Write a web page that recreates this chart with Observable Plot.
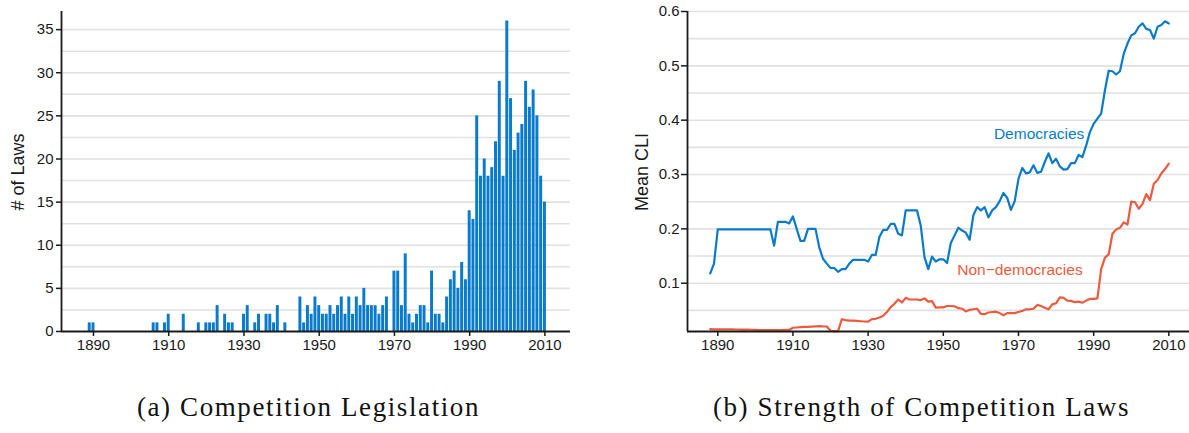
<!DOCTYPE html>
<html>
<head>
<meta charset="utf-8">
<script src="https://cdn.jsdelivr.net/npm/d3@7"></script>
<script src="https://cdn.jsdelivr.net/npm/@observablehq/plot@0.6"></script>
<style>
  body { margin: 0; background: #fff; }
  #wrap { position: relative; width: 1189px; height: 433px; overflow: hidden; }
  #vis1, #vis2 { position: absolute; top: 0; }
  #vis1 { left: 0; }
  #vis2 { left: 595px; }
  .ytitle {
    position: absolute; width: 160px; margin-left: -80px; text-align: center;
    font-family: "Liberation Sans", Arial, sans-serif; font-size: 18px; line-height: 22px;
    color: #1a1a1a; transform: rotate(-90deg); transform-origin: 50% 50%;
  }
  .cap {
    position: absolute; top: 394px; width: 595px; text-align: center;
    font-family: "Liberation Serif", "DejaVu Serif", serif;
    font-size: 27px; line-height: 27px; letter-spacing: 1.6px; color: #111;
  }
</style>
</head>
<body>
<div id="wrap">
  <div id="vis1"></div>
  <div id="vis2"></div>
  <div class="ytitle" style="left: 18px; top: 161px">&#35; of Laws</div>
  <div class="ytitle" style="left: 642px; top: 161px">Mean CLI</div>
  <div class="cap" style="left: 11px">(a) Competition Legislation</div>
  <div class="cap" style="left: 624px">(b) Strength of Competition Laws</div>
</div>
<script>
// number of competition laws passed per year (panel a)
const lawYears = [
  1889, 1890, 1906, 1907, 1909, 1910, 1914, 1918, 1920, 1921, 1922, 1923, 1925, 1926, 1927,
  1930, 1931, 1933, 1934, 1936, 1937, 1938, 1939, 1941, 1945, 1946, 1947, 1948, 1949,
  1950, 1951, 1952, 1953, 1954, 1955, 1956, 1957, 1958, 1959, 1960, 1961, 1962, 1963, 1964,
  1965, 1966, 1967, 1968, 1970, 1971, 1972, 1973, 1974, 1975, 1976, 1977, 1978, 1979,
  1980, 1981, 1982, 1983, 1984, 1985, 1986, 1987, 1988, 1989, 1990, 1991, 1992, 1993, 1994,
  1995, 1996, 1997, 1998, 1999, 2000, 2001, 2002, 2003, 2004, 2005, 2006, 2007, 2008, 2009, 2010
]
const lawCounts = [
  1, 1, 1, 1, 1, 2, 2, 1, 1, 1, 1, 3, 2, 1, 1,
  2, 3, 1, 2, 2, 2, 1, 3, 1, 4, 1, 3, 2, 4,
  3, 2, 2, 3, 2, 3, 4, 2, 4, 2, 4, 3, 5, 3, 3,
  3, 2, 3, 4, 7, 7, 3, 9, 2, 1, 2, 3, 3, 1,
  7, 2, 2, 1, 4, 6, 7, 5, 8, 6, 14, 13, 25, 18, 20,
  18, 19, 22, 29, 18, 36, 27, 21, 23, 24, 29, 26, 28, 25, 18, 15
]

// mean CLI by regime type (panel b), 1888-2010
const cliYears = [
  1888, 1889,
  1890, 1891, 1892, 1893, 1894, 1895, 1896, 1897, 1898, 1899,
  1900, 1901, 1902, 1903, 1904, 1905, 1906, 1907, 1908, 1909,
  1910, 1911, 1912, 1913, 1914, 1915, 1916, 1917, 1918, 1919,
  1920, 1921, 1922, 1923, 1924, 1925, 1926, 1927, 1928, 1929,
  1930, 1931, 1932, 1933, 1934, 1935, 1936, 1937, 1938, 1939,
  1940, 1941, 1942, 1943, 1944, 1945, 1946, 1947, 1948, 1949,
  1950, 1951, 1952, 1953, 1954, 1955, 1956, 1957, 1958, 1959,
  1960, 1961, 1962, 1963, 1964, 1965, 1966, 1967, 1968, 1969,
  1970, 1971, 1972, 1973, 1974, 1975, 1976, 1977, 1978, 1979,
  1980, 1981, 1982, 1983, 1984, 1985, 1986, 1987, 1988, 1989,
  1990, 1991, 1992, 1993, 1994, 1995, 1996, 1997, 1998, 1999,
  2000, 2001, 2002, 2003, 2004, 2005, 2006, 2007, 2008, 2009,
  2010
]
const cliDemocracies = [
  0.118, 0.136,
  0.199, 0.199, 0.199, 0.199, 0.199, 0.199, 0.199, 0.199, 0.199, 0.199,
  0.199, 0.199, 0.199, 0.199, 0.199, 0.169, 0.213, 0.213, 0.213, 0.210,
  0.223, 0.200, 0.178, 0.178, 0.200, 0.200, 0.200, 0.166, 0.145, 0.136,
  0.128, 0.128, 0.121, 0.126, 0.126, 0.136, 0.143, 0.143, 0.143, 0.143,
  0.140, 0.152, 0.152, 0.185, 0.198, 0.198, 0.209, 0.209, 0.191, 0.188,
  0.234, 0.234, 0.234, 0.234, 0.206, 0.148, 0.126, 0.149, 0.140, 0.144,
  0.144, 0.137, 0.174, 0.188, 0.202, 0.197, 0.193, 0.180, 0.225, 0.240,
  0.234, 0.240, 0.221, 0.234, 0.240, 0.251, 0.266, 0.257, 0.235, 0.251,
  0.292, 0.312, 0.302, 0.304, 0.317, 0.303, 0.305, 0.323, 0.339, 0.321,
  0.329, 0.315, 0.309, 0.310, 0.321, 0.321, 0.336, 0.332, 0.353, 0.378,
  0.393, 0.403, 0.412, 0.455, 0.491, 0.490, 0.484, 0.490, 0.522, 0.541,
  0.556, 0.560, 0.572, 0.578, 0.568, 0.566, 0.550, 0.572, 0.575, 0.582,
  0.578
]
const cliNonDemocracies = [
  0.0153, 0.0150,
  0.0150, 0.0150, 0.0150, 0.0150, 0.0150, 0.0148, 0.0147, 0.0147, 0.0145, 0.0143,
  0.0140, 0.0138, 0.0136, 0.0135, 0.0135, 0.0135, 0.0135, 0.0135, 0.0140, 0.0140,
  0.0180, 0.0185, 0.0190, 0.0195, 0.0195, 0.0200, 0.0205, 0.0210, 0.0205, 0.0203,
  0.0125, 0.0117, 0.0117, 0.0337, 0.0320, 0.0310, 0.0310, 0.0305, 0.0300, 0.0295,
  0.0294, 0.0340, 0.0345, 0.0370, 0.0400, 0.0470, 0.0560, 0.0620, 0.0700, 0.0645,
  0.0730, 0.0700, 0.0700, 0.0700, 0.0690, 0.0720, 0.0660, 0.0670, 0.0550, 0.0555,
  0.0555, 0.0580, 0.0580, 0.0575, 0.0540, 0.0530, 0.0480, 0.0510, 0.0520, 0.0530,
  0.0435, 0.0430, 0.0460, 0.0470, 0.0475, 0.0450, 0.0410, 0.0450, 0.0450, 0.0450,
  0.0470, 0.0490, 0.0520, 0.0520, 0.0530, 0.0600, 0.0580, 0.0550, 0.0520, 0.0610,
  0.0630, 0.0740, 0.0730, 0.0680, 0.0675, 0.0650, 0.0660, 0.0640, 0.0680, 0.0710,
  0.0710, 0.0720, 0.1260, 0.1470, 0.1530, 0.1910, 0.1990, 0.2020, 0.2120, 0.2080,
  0.2500, 0.2490, 0.2370, 0.2460, 0.2640, 0.2530, 0.2830, 0.2900, 0.3020, 0.3100,
  0.3200
]

// axis ticks
const yearTicks = [1890, 1910, 1930, 1950, 1970, 1990, 2010]
const lawTicks = [0, 5, 10, 15, 20, 25, 30, 35]
const lawGrid = [2.5, 5, 7.5, 10, 12.5, 15, 17.5, 20, 22.5, 25, 27.5, 30, 32.5, 35]
const cliTicks = [0.1, 0.2, 0.3, 0.4, 0.5, 0.6]
const cliGrid = [0.05, 0.1, 0.15, 0.2, 0.25, 0.3, 0.35, 0.4, 0.45, 0.5, 0.55, 0.6]

// label placement for the two series (data units)
const seriesLabels = [
  {name: "Democracies", year: 1975.5, value: 0.374},
  {name: "Non\u2212democracies", year: 1970.4, value: 0.124}
]

const blue = "#0a7bcc"
const red = "#ee5a3e"
const gridColor = "#e1e1e1"
const inkColor = "#1a1a1a"

const laws = lawYears.map((y, i) => ({year: y, count: lawCounts[i]}))
const cli = [
  ...cliYears.map((y, i) => ({year: y, value: cliDemocracies[i], group: "Democracies"})),
  ...cliYears.map((y, i) => ({year: y, value: cliNonDemocracies[i], group: "Non-democracies"}))
]

const sharedStyle = {
  fontFamily: "'Liberation Sans', Arial, sans-serif",
  fontSize: "15px",
  color: inkColor,
  background: "white",
  overflow: "visible"
}

function drawLaws() {
  const xDomain = [1881.5, 2016.8]
  const yDomain = [0, 37.1]
  const plot = Plot.plot({
    width: 595,
    height: 360,
    marginLeft: 61,
    marginRight: 25,
    marginTop: 11,
    marginBottom: 29,
    style: sharedStyle,
    x: {domain: xDomain},
    y: {domain: yDomain},
    marks: [
      Plot.gridY(lawGrid, {stroke: gridColor, strokeOpacity: 1, strokeWidth: 1.6}),
      Plot.rectY(laws, {
        x1: d => d.year - 0.5,
        x2: d => d.year + 0.5,
        y: "count",
        fill: blue,
        insetLeft: 0.4,
        insetRight: 0.4
      }),
      Plot.ruleY([yDomain[0]], {stroke: inkColor, strokeWidth: 1.8}),
      Plot.ruleX([xDomain[0]], {stroke: inkColor, strokeWidth: 1.8}),
      Plot.axisX({ticks: yearTicks, tickFormat: d => String(d), tickSize: 5, tickPadding: 3, fontSize: 15, label: null, stroke: inkColor, fill: inkColor, strokeWidth: 1.5}),
      Plot.axisY({ticks: lawTicks, tickFormat: d => String(d), tickSize: 5, tickPadding: 3, fontSize: 15, label: null, stroke: inkColor, fill: inkColor, strokeWidth: 1.5})
    ]
  })
  const div = document.querySelector("#vis1")
  div.innerText = ''
  div.append(plot)
}
drawLaws()

function drawCli() {
  const xDomain = [1881.95, 2015.5]
  const yDomain = [0.0111, 0.6]
  const plot = Plot.plot({
    width: 594,
    height: 360,
    marginLeft: 92,
    marginRight: 0,
    marginTop: 11,
    marginBottom: 29,
    style: sharedStyle,
    x: {domain: xDomain},
    y: {domain: yDomain},
    color: {domain: ["Democracies", "Non-democracies"], range: [blue, red]},
    marks: [
      Plot.gridY(cliGrid, {stroke: gridColor, strokeOpacity: 1, strokeWidth: 1.6}),
      Plot.line(cli, {x: "year", y: "value", z: "group", stroke: "group", strokeWidth: 2.2}),
      Plot.ruleY([yDomain[0]], {stroke: inkColor, strokeWidth: 1.8}),
      Plot.ruleX([xDomain[0]], {stroke: inkColor, strokeWidth: 1.8}),
      Plot.axisX({ticks: yearTicks, tickFormat: d => String(d), tickSize: 5, tickPadding: 3, fontSize: 15, label: null, stroke: inkColor, fill: inkColor, strokeWidth: 1.5}),
      Plot.axisY({ticks: cliTicks, tickFormat: d => String(d), tickSize: 6, tickPadding: 2, fontSize: 15, label: null, stroke: inkColor, fill: inkColor, strokeWidth: 1.5}),
      Plot.text(seriesLabels, {
        x: "year",
        y: "value",
        text: "name",
        fill: (d, i) => i === 0 ? blue : red,
        fontSize: 15.5
      })
    ]
  })
  const div = document.querySelector("#vis2")
  div.innerText = ''
  div.append(plot)
}
drawCli()
</script>
</body>
</html>
